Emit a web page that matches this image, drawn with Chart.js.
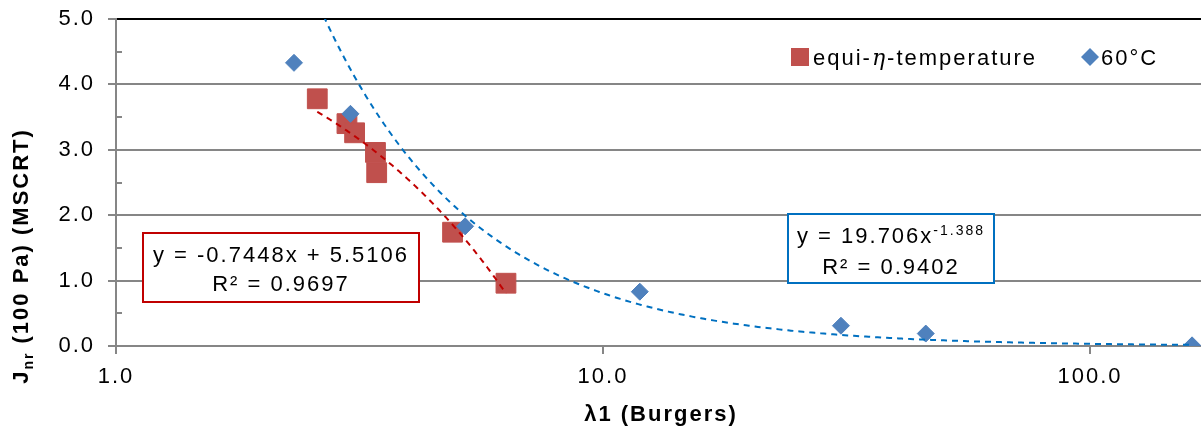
<!DOCTYPE html>
<html>
<head>
<meta charset="utf-8">
<script src="https://cdn.jsdelivr.net/npm/chart.js@4.4.1/dist/chart.umd.min.js"></script>
<style>
  html, body { margin: 0; padding: 0; background: #fff; }
</style>
</head>
<body>
<canvas id="chart" width="1201" height="434"></canvas>
<script>
// values
const equiX = [2.59, 2.98, 3.09, 3.41, 3.43, 4.91, 6.32];
const equiY = [3.78, 3.40, 3.26, 2.96, 2.65, 1.74, 0.96];
const t60X = [2.32, 3.03, 5.21, 11.9, 30.8, 46.0, 162];
const t60Y = [4.33, 3.55, 1.83, 0.83, 0.31, 0.19, 0.01];
const xTicks = [1, 10, 100];
const yMinorTicks = [0.5, 1.5, 2.5, 3.5, 4.5];

// trendlines as printed on the chart
const equiFit = { slope: -0.7448, intercept: 5.5106, r2: '0.9697' };
const t60Fit = { coef: 19.706, exp: -1.388, r2: '0.9402' };

const GRAY = '#868686';
const FONT = '"Liberation Sans", Arial, sans-serif';

function spaced(ctx) {
    ctx.letterSpacing = '2px';
}

function drawTrend(ctx, xs, ys, xvals, f, color) {
    const lo = Math.min(...xvals);
    const hi = Math.max(...xvals);
    const n = 300;
    ctx.strokeStyle = color;
    ctx.beginPath();
    for (let i = 0; i <= n; i++) {
        const x = lo * Math.pow(hi / lo, i / n);
        const px = xs.getPixelForValue(x);
        const py = ys.getPixelForValue(f(x));
        if (i === 0) ctx.moveTo(px, py); else ctx.lineTo(px, py);
    }
    ctx.stroke();
}

function box(ctx, x, y, w, h, color) {
    ctx.fillStyle = '#fff';
    ctx.fillRect(x, y, w, h);
    ctx.strokeStyle = color;
    ctx.lineWidth = 2;
    ctx.setLineDash([]);
    ctx.strokeRect(x, y, w, h);
}

function noPad(scale) {
    scale.paddingLeft = 0;
    scale.paddingRight = 0;
    scale.paddingTop = 0;
    scale.paddingBottom = 0;
}

const extras = {
    id: 'extras',
    beforeLayout(chart) { spaced(chart.ctx); },
    beforeDraw(chart) { spaced(chart.ctx); },
    afterDatasetsDraw(chart) {
        const ctx = chart.ctx;
        const xs = chart.scales.x, ys = chart.scales.y, a = chart.chartArea;

        // minor ticks, inside
        ctx.save();
        ctx.strokeStyle = GRAY;
        ctx.lineWidth = 2;
        yMinorTicks.forEach(v => {
            const py = Math.round(ys.getPixelForValue(v));
            ctx.beginPath();
            ctx.moveTo(a.left, py);
            ctx.lineTo(a.left + 6, py);
            ctx.stroke();
        });
        ctx.restore();

        // trendlines
        ctx.save();
        ctx.beginPath();
        ctx.rect(a.left, a.top, a.right - a.left, a.bottom - a.top);
        ctx.clip();
        ctx.lineWidth = 2;
        ctx.setLineDash([6, 5]);
        drawTrend(ctx, xs, ys, equiX, x => equiFit.slope * x + equiFit.intercept, '#C00000');
        drawTrend(ctx, xs, ys, t60X, x => t60Fit.coef * Math.pow(x, t60Fit.exp), '#0070C0');
        ctx.restore();
    },
    afterDraw(chart) {
        const ctx = chart.ctx;
        ctx.save();
        spaced(ctx);
        ctx.fillStyle = '#000';
        ctx.textBaseline = 'alphabetic';

        // linear fit label
        box(ctx, 143, 233, 276, 69, '#C00000');
        ctx.fillStyle = '#000';
        ctx.font = '22px ' + FONT;
        ctx.textAlign = 'center';
        ctx.fillText('y = ' + equiFit.slope + 'x + ' + equiFit.intercept, 281, 262);
        ctx.fillText('R² = ' + equiFit.r2, 281, 291);

        // power fit label
        box(ctx, 788, 214, 206, 69, '#0070C0');
        ctx.fillStyle = '#000';
        const main = 'y = ' + t60Fit.coef + 'x';
        const sup = String(t60Fit.exp);
        ctx.font = '22px ' + FONT;
        const w1 = ctx.measureText(main).width;
        ctx.font = '14px ' + FONT;
        const w2 = ctx.measureText(sup).width;
        let sx = 891 - (w1 + w2) / 2;
        ctx.textAlign = 'left';
        ctx.font = '22px ' + FONT;
        ctx.fillText(main, sx, 243);
        ctx.font = '14px ' + FONT;
        ctx.fillText(sup, sx + w1, 235);
        ctx.font = '22px ' + FONT;
        ctx.textAlign = 'center';
        ctx.fillText('R² = ' + t60Fit.r2, 891, 274);

        // legend
        const ds = chart.data.datasets;
        ctx.textAlign = 'left';
        ctx.fillStyle = ds[0].backgroundColor;
        ctx.fillRect(791, 48, 18, 18);
        let lx = 813;
        const parts = ds[0].label.split('η');
        ctx.fillStyle = '#000';
        ctx.font = '22px ' + FONT;
        ctx.fillText(parts[0], lx, 65);
        lx += ctx.measureText(parts[0]).width;
        ctx.font = 'italic 22px "DejaVu Serif", serif';
        ctx.fillText('η', lx, 65);
        lx += ctx.measureText('η').width;
        ctx.font = '22px ' + FONT;
        ctx.fillText(parts[1], lx, 65);

        ctx.fillStyle = ds[1].backgroundColor;
        ctx.beginPath();
        ctx.moveTo(1090, 48);
        ctx.lineTo(1099, 57);
        ctx.lineTo(1090, 66);
        ctx.lineTo(1081, 57);
        ctx.closePath();
        ctx.fill();
        ctx.fillStyle = '#000';
        ctx.fillText(ds[1].label, 1101, 65);

        // x title
        ctx.font = 'bold 22px ' + FONT;
        ctx.textAlign = 'center';
        ctx.fillText('λ1 (Burgers)', 661, 421);

        // y title with subscript
        ctx.translate(28, 256);
        ctx.rotate(-Math.PI / 2);
        ctx.textAlign = 'left';
        ctx.font = 'bold 22px ' + FONT;
        const tJ = ctx.measureText('J').width;
        const tRest = ctx.measureText(' (100 Pa) (MSCRT)').width;
        ctx.font = 'bold 14px ' + FONT;
        const tSub = ctx.measureText('nr').width;
        let tx = -(tJ + tSub + tRest) / 2;
        ctx.font = 'bold 22px ' + FONT;
        ctx.fillText('J', tx, 0);
        tx += tJ;
        ctx.font = 'bold 14px ' + FONT;
        ctx.fillText('nr', tx, 5);
        tx += tSub;
        ctx.font = 'bold 22px ' + FONT;
        ctx.fillText(' (100 Pa) (MSCRT)', tx, 0);
        ctx.restore();
    }
};

const ctx = document.getElementById('chart').getContext('2d');

new Chart(ctx, {
    type: 'scatter',
    data: {
        datasets: [
            {
                label: 'equi-η-temperature',
                data: equiX.map((x, i) => ({ x: x, y: equiY[i] })),
                pointStyle: 'rect',
                pointRadius: 14,
                backgroundColor: '#C0504D',
                borderColor: '#C0504D',
                borderWidth: 1,
                order: 1
            },
            {
                label: '60°C',
                data: t60X.map((x, i) => ({ x: x, y: t60Y[i] })),
                pointStyle: 'rectRot',
                pointRadius: 8.5,
                backgroundColor: '#4F81BD',
                borderColor: '#4F81BD',
                borderWidth: 1,
                order: 0
            }
        ]
    },
    options: {
        responsive: false,
        animation: false,
        devicePixelRatio: 1,
        layout: {
            autoPadding: false,
            padding: { top: 19, right: 0, left: 0, bottom: 0 }
        },
        plugins: {
            legend: { display: false },
            tooltip: { enabled: false }
        },
        scales: {
            x: {
                type: 'logarithmic',
                min: 1,
                max: 169,
                afterBuildTicks: scale => {
                    scale.ticks = xTicks.map(v => ({ value: v }));
                },
                afterFit: scale => { scale.height = 88; noPad(scale); },
                ticks: {
                    autoSkip: false,
                    maxRotation: 0,
                    padding: 10,
                    color: '#000',
                    font: { family: FONT, size: 22 },
                    callback: v => Number(v).toFixed(1)
                },
                grid: {
                    drawOnChartArea: false,
                    drawTicks: true,
                    tickLength: 8,
                    color: GRAY,
                    lineWidth: 2
                },
                border: { color: GRAY, width: 2 }
            },
            y: {
                min: 0,
                max: 5,
                afterFit: scale => { scale.width = 116; noPad(scale); },
                ticks: {
                    stepSize: 1,
                    autoSkip: false,
                    padding: 13,
                    color: '#000',
                    font: { family: FONT, size: 22 },
                    callback: v => Number(v).toFixed(1)
                },
                grid: {
                    tickLength: 8,
                    lineWidth: 2,
                    color: c => (c.tick && c.tick.value === 5 ? '#000' : GRAY),
                    tickColor: GRAY
                },
                border: { color: GRAY, width: 2 }
            }
        }
    },
    plugins: [extras]
});
</script>
</body>
</html>
